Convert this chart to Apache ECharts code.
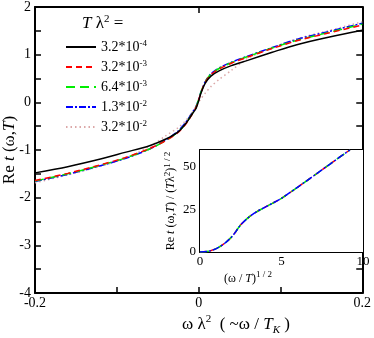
<!DOCTYPE html>
<html>
<head>
<meta charset="utf-8">
<script src="https://cdn.jsdelivr.net/npm/echarts@6/dist/echarts.min.js"></script>
<style>
  html, body { margin: 0; padding: 0; background: #fff; }
  #myChart { width: 374px; height: 338px; }
</style>
</head>
<body>
<div id="myChart"></div>
<script>
// main plot: Re t(w,T) vs w*lambda^2
const omega = [-0.2, -0.16, -0.12, -0.09, -0.06, -0.04, -0.025, -0.015, -0.008, -0.003, 0, 0.003, 0.008, 0.015, 0.025, 0.04, 0.06, 0.09, 0.12, 0.16, 0.2]
const tLabels = ['3.2*10^-4', '3.2*10^-3', '6.4*10^-3', '1.3*10^-2', '3.2*10^-2']
const reT_1 = [-1.48, -1.35, -1.19, -1.05, -0.91, -0.77, -0.62, -0.43, -0.25, -0.12, 0.03, 0.20, 0.40, 0.55, 0.66, 0.77, 0.88, 1.05, 1.21, 1.37, 1.51]
const reT_2 = [-1.64, -1.49, -1.31, -1.16, -0.97, -0.80, -0.63, -0.44, -0.25, -0.10, 0.05, 0.21, 0.42, 0.58, 0.70, 0.82, 0.95, 1.13, 1.29, 1.46, 1.62]
const reT_3 = [-1.65, -1.50, -1.32, -1.17, -0.98, -0.80, -0.62, -0.43, -0.24, -0.09, 0.06, 0.22, 0.43, 0.59, 0.71, 0.83, 0.96, 1.14, 1.30, 1.47, 1.64]
const reT_4 = [-1.66, -1.51, -1.33, -1.18, -0.98, -0.79, -0.60, -0.40, -0.22, -0.08, 0.06, 0.22, 0.43, 0.60, 0.72, 0.84, 0.97, 1.15, 1.32, 1.49, 1.66]
const reT_5 = [-1.69, -1.52, -1.34, -1.17, -0.93, -0.70, -0.53, -0.37, -0.22, -0.09, 0.0, 0.08, 0.19, 0.33, 0.48, 0.67, 0.92, 1.14, 1.33, 1.51, 1.69]

// inset: Re t / (T lambda^2)^(1/2) vs (w/T)^(1/2)
const sqrtWT = [0, 0.5, 1, 1.5, 2, 2.5, 3, 3.5, 4, 5, 6, 7, 8, 9, 9.2]
const scaledReT = [0, 0.4, 2, 5, 9.5, 16, 20.5, 23.8, 26.4, 31.6, 38.2, 45, 51.9, 58.7, 60]

const serif = 'Liberation Serif'
const colors = ['#000000', '#ff0000', '#00ee00', '#0000ff', '#dca8a8']
const dashes = ['solid', [6, 4], [9, 5], [7, 2, 2, 2], [1.5, 3]]
const mainData = [reT_1, reT_2, reT_3, reT_4, reT_5]

function pairs(xs, ys) {
  return xs.map((x, i) => [x, ys[i]])
}

const frame = { show: true, onZero: false, lineStyle: { color: '#000', width: 2 } }
const tick = { show: true, inside: true, length: 6, lineStyle: { color: '#000', width: 1.5 } }

const series = []
for (let i = 0; i < mainData.length; i++) {
  series.push({
    name: tLabels[i],
    type: 'line',
    xAxisIndex: 0,
    yAxisIndex: 0,
    data: pairs(omega, mainData[i]),
    smooth: 0.3,
    symbol: 'none',
    lineStyle: { color: colors[i], width: 1.5, type: dashes[i] },
    itemStyle: { color: colors[i] },
    z: 10 - i
  })
}
// inset curves (all collapse onto one)
for (let i = 1; i < 4; i++) {
  series.push({
    type: 'line',
    xAxisIndex: 2,
    yAxisIndex: 2,
    data: pairs(sqrtWT, scaledReT),
    smooth: 0.3,
    symbol: 'none',
    lineStyle: { color: colors[i], width: 1.5, type: dashes[i] },
    z: 5 + i
  })
}

const myChart = echarts.init(document.getElementById('myChart'), null, { renderer: 'canvas' })
const option = {
  animation: false,
  backgroundColor: '#fff',
  textStyle: { fontFamily: serif },
  grid: [
    { left: 35, top: 5, width: 329, height: 288 },
    { left: 200, top: 150, width: 163, height: 102, show: true, backgroundColor: '#fff', borderWidth: 0, z: 3 }
  ],
  legend: {
    left: 60,
    top: 34,
    orient: 'vertical',
    itemWidth: 30,
    itemHeight: 14,
    itemGap: 5,
    data: tLabels,
    itemStyle: { color: 'rgba(0,0,0,0)', borderWidth: 0, opacity: 0 },
    textStyle: {
      fontFamily: serif,
      color: '#000',
      rich: {
        b: { fontFamily: serif, fontSize: 14, lineHeight: 16, color: '#000' },
        s: { fontFamily: serif, fontSize: 9, lineHeight: 9, verticalAlign: 'top', color: '#000' }
      }
    },
    formatter: name => {
      const p = name.split('^')
      return '{b|' + p[0] + '}{s|' + p[1] + '}'
    }
  },
  xAxis: [
    {
      gridIndex: 0, type: 'value', position: 'bottom', min: -0.2, max: 0.2, interval: 0.1,
      axisLine: frame, axisTick: tick, splitLine: { show: false },
      axisLabel: {
        margin: 3, fontSize: 14, fontFamily: serif, color: '#000',
        formatter: v => (Math.round(v * 10) % 2 === 0 ? String(+v.toFixed(1)) : '')
      }
    },
    {
      gridIndex: 0, type: 'value', position: 'top', min: -0.2, max: 0.2, interval: 0.2,
      axisLine: frame, axisTick: tick, splitLine: { show: false }, axisLabel: { show: false }
    },
    {
      gridIndex: 1, type: 'value', position: 'bottom', min: 0, max: 10, interval: 2.5,
      axisLine: frame, axisTick: { ...tick, length: 5 }, splitLine: { show: false },
      axisLabel: {
        margin: 3, fontSize: 13, fontFamily: serif, color: '#000',
        formatter: v => (v % 5 === 0 ? String(v) : '')
      }
    },
    {
      gridIndex: 1, type: 'value', position: 'top', min: 0, max: 10, interval: 2.5,
      axisLine: frame, axisTick: { ...tick, length: 5 }, splitLine: { show: false }, axisLabel: { show: false }
    }
  ],
  yAxis: [
    {
      gridIndex: 0, type: 'value', position: 'left', min: -4, max: 2, interval: 1,
      axisLine: frame, axisTick: tick, splitLine: { show: false },
      minorTick: { show: true, splitNumber: 2, length: 6, lineStyle: { color: '#000', width: 1.5 } },
      axisLabel: { margin: 4, fontSize: 14, fontFamily: serif, color: '#000' }
    },
    {
      gridIndex: 0, type: 'value', position: 'right', min: -4, max: 2, interval: 0.5,
      axisLine: frame, axisTick: tick, splitLine: { show: false }, axisLabel: { show: false }
    },
    {
      gridIndex: 1, type: 'value', position: 'left', min: 0, max: 60, interval: 12.5,
      axisLine: frame, axisTick: { ...tick, length: 5 }, splitLine: { show: false },
      axisLabel: {
        margin: 4, fontSize: 13, fontFamily: serif, color: '#000',
        formatter: v => (v % 25 === 0 && v < 60 ? String(v) : '')
      }
    },
    {
      gridIndex: 1, type: 'value', position: 'right', min: 0, max: 60, interval: 12.5,
      axisLine: frame, axisTick: { ...tick, length: 5 }, splitLine: { show: false }, axisLabel: { show: false }
    }
  ],
  graphic: [
    {
      // legend heading
      type: 'text', left: 82, top: 14, z: 20,
      style: {
        text: '{i|T}{n| λ}{s|2}{n| =}',
        rich: {
          i: { fontFamily: serif, fontStyle: 'italic', fontSize: 17, lineHeight: 20 },
          n: { fontFamily: serif, fontSize: 17, lineHeight: 20 },
          s: { fontFamily: serif, fontSize: 11, lineHeight: 11, verticalAlign: 'top' }
        }
      }
    },
    {
      // main y title
      type: 'text', x: 10, y: 150, rotation: Math.PI / 2, z: 20,
      style: {
        text: '{n|Re }{i|t}{n| (ω,}{i|T}{n|)}',
        align: 'center', verticalAlign: 'middle',
        rich: {
          i: { fontFamily: serif, fontStyle: 'italic', fontSize: 17 },
          n: { fontFamily: serif, fontSize: 17 }
        }
      }
    },
    {
      // main x title
      type: 'text', left: 182, top: 314, z: 20,
      style: {
        text: '{n|ω λ}{s|2}{n|  ( ~ω / }{i|T}{b|K}{n| )}',
        rich: {
          i: { fontFamily: serif, fontStyle: 'italic', fontSize: 17, lineHeight: 22 },
          n: { fontFamily: serif, fontSize: 17, lineHeight: 22 },
          s: { fontFamily: serif, fontSize: 11, lineHeight: 11, verticalAlign: 'top' },
          b: { fontFamily: serif, fontStyle: 'italic', fontSize: 11, lineHeight: 11, verticalAlign: 'bottom' }
        }
      }
    },
    {
      // inset x title
      type: 'text', left: 224, top: 270, z: 20,
      style: {
        text: '{n|(ω / }{i|T}{n|)}{s|1 / 2}',
        rich: {
          i: { fontFamily: serif, fontStyle: 'italic', fontSize: 12, lineHeight: 18 },
          n: { fontFamily: serif, fontSize: 12, lineHeight: 18 },
          s: { fontFamily: serif, fontSize: 9, lineHeight: 9, verticalAlign: 'top' }
        }
      }
    },
    {
      // inset y title
      type: 'text', x: 171, y: 201, rotation: Math.PI / 2, z: 20,
      style: {
        text: '{n|Re }{i|t}{n| (ω,}{i|T}{n|) / (}{i|T}{n|λ}{s|2}{n|)}{s|1 / 2}',
        align: 'center', verticalAlign: 'middle',
        rich: {
          i: { fontFamily: serif, fontStyle: 'italic', fontSize: 12, lineHeight: 16 },
          n: { fontFamily: serif, fontSize: 12, lineHeight: 16 },
          s: { fontFamily: serif, fontSize: 9, lineHeight: 9, verticalAlign: 'top' }
        }
      }
    }
  ],
  series: series
}
myChart.setOption(option)
</script>
</body>
</html>
